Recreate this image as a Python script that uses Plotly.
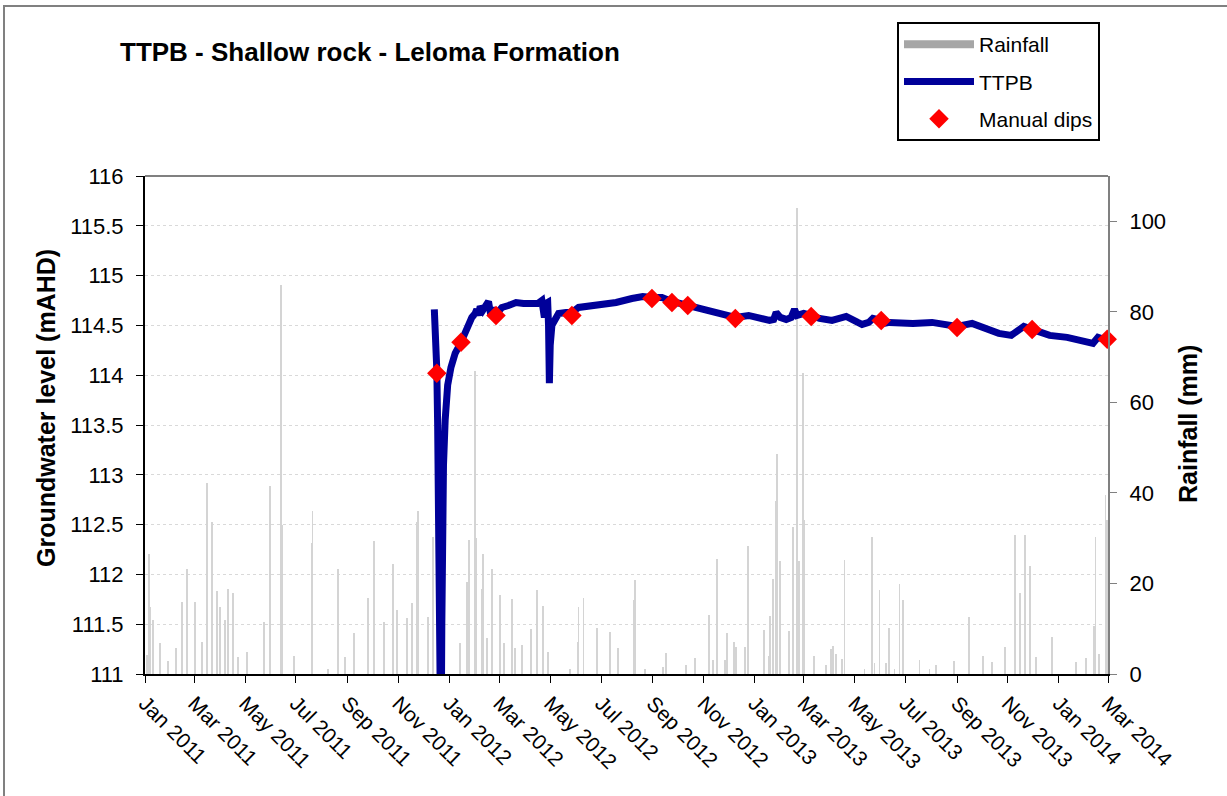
import plotly.graph_objects as go

# groundwater logger trace (TTPB), mAHD
ttpb_dates = [
    "2011-12-14", "2011-12-15", "2011-12-17", "2011-12-18", "2011-12-20", "2011-12-22",
    "2011-12-23", "2011-12-24", "2011-12-25", "2011-12-27", "2011-12-30", "2012-01-03",
    "2012-01-08", "2012-01-15", "2012-01-22", "2012-01-28", "2012-02-01", "2012-02-03",
    "2012-02-05", "2012-02-07", "2012-02-10", "2012-02-14", "2012-02-17", "2012-02-19",
    "2012-02-23", "2012-02-27", "2012-03-04", "2012-03-12", "2012-03-21", "2012-03-30",
    "2012-04-09", "2012-04-16", "2012-04-21", "2012-04-23", "2012-04-24", "2012-04-26",
    "2012-04-28", "2012-04-29", "2012-04-30", "2012-05-01", "2012-05-03", "2012-05-07",
    "2012-05-11", "2012-05-20", "2012-05-27", "2012-06-04", "2012-06-15", "2012-06-28",
    "2012-07-10", "2012-07-19", "2012-08-07", "2012-08-20", "2012-08-31", "2012-09-12",
    "2012-09-24", "2012-10-04", "2012-10-14", "2012-10-26", "2012-11-03", "2012-11-11",
    "2012-11-25", "2012-12-09", "2012-12-25", "2013-01-06", "2013-01-19", "2013-01-24",
    "2013-01-27", "2013-02-01", "2013-02-08", "2013-02-14", "2013-02-18", "2013-02-21",
    "2013-03-01", "2013-03-10", "2013-03-20", "2013-04-04", "2013-04-21", "2013-05-05",
    "2013-05-10", "2013-05-18", "2013-05-23", "2013-06-02", "2013-06-05", "2013-06-12",
    "2013-06-24", "2013-07-10", "2013-08-02", "2013-08-23", "2013-09-01", "2013-09-19",
    "2013-10-05", "2013-10-21", "2013-11-05", "2013-11-14", "2013-11-20", "2013-11-30",
    "2013-12-10", "2013-12-21", "2014-01-11", "2014-01-25", "2014-02-11", "2014-02-17",
    "2014-02-22", "2014-02-28",
]
ttpb_level = [
    114.66, 114.50, 114.05, 113.50, 110.00, 110.00,
    111.50, 112.60, 113.10, 113.55, 113.90, 114.08,
    114.22, 114.33, 114.48, 114.58, 114.62, 114.66,
    114.60, 114.69, 114.65, 114.70, 114.74, 114.64,
    114.65, 114.62, 114.68, 114.70, 114.73, 114.72,
    114.72, 114.72, 114.75, 114.60, 114.58, 114.72,
    114.73, 114.50, 113.92, 114.30, 114.50, 114.58,
    114.62, 114.63, 114.63, 114.68, 114.69, 114.70,
    114.71, 114.73, 114.77, 114.79, 114.78, 114.78,
    114.74, 114.72, 114.70, 114.67, 114.66, 114.64,
    114.61, 114.58, 114.60, 114.57, 114.55, 114.56,
    114.63, 114.58, 114.56, 114.58, 114.66, 114.60,
    114.62, 114.60, 114.57, 114.55, 114.59, 114.53,
    114.51, 114.53, 114.57, 114.55, 114.52, 114.53,
    114.52, 114.52, 114.53, 114.51, 114.49, 114.52,
    114.47, 114.42, 114.40, 114.46, 114.49, 114.46,
    114.43, 114.40, 114.38, 114.35, 114.32, 114.38,
    114.36, 114.35,
]

# manual dips
dip_dates = [
    "2011-12-17", "2012-01-15", "2012-02-26", "2012-05-27", "2012-08-31", "2012-09-24",
    "2012-10-13", "2012-12-09", "2013-03-10", "2013-06-02", "2013-09-01", "2013-11-30",
    "2014-02-28",
]
dip_level = [
    114.02, 114.33, 114.60, 114.60, 114.77, 114.73,
    114.70, 114.57, 114.59, 114.55, 114.48, 114.46,
    114.36,
]

# daily rainfall (mm), wet days only
rain_dates = [
    "2011-01-03", "2011-01-06", "2011-01-07", "2011-01-11", "2011-01-19", "2011-01-29",
    "2011-02-07", "2011-02-14", "2011-02-20", "2011-03-02", "2011-03-10", "2011-03-16",
    "2011-03-22", "2011-03-28", "2011-04-01", "2011-04-07", "2011-04-11", "2011-04-17",
    "2011-04-23", "2011-05-03", "2011-05-24", "2011-05-31", "2011-06-13", "2011-06-14",
    "2011-06-29", "2011-07-20", "2011-07-21", "2011-08-08", "2011-08-20", "2011-08-29",
    "2011-09-09", "2011-09-25", "2011-10-03", "2011-10-15", "2011-10-25", "2011-10-30",
    "2011-11-11", "2011-11-17", "2011-11-23", "2011-11-24", "2011-12-06", "2011-12-12",
    "2012-01-14", "2012-01-22", "2012-01-25", "2012-02-01", "2012-02-02", "2012-02-09",
    "2012-02-10", "2012-02-15", "2012-02-21", "2012-03-02", "2012-03-07", "2012-03-16",
    "2012-03-20", "2012-03-28", "2012-04-08", "2012-04-15", "2012-04-22", "2012-04-28",
    "2012-05-25", "2012-06-03", "2012-06-04", "2012-06-10", "2012-06-26", "2012-07-12",
    "2012-07-21", "2012-08-09", "2012-08-11", "2012-08-23", "2012-09-13", "2012-09-17",
    "2012-10-11", "2012-10-22", "2012-11-07", "2012-11-12", "2012-11-17", "2012-11-27",
    "2012-11-29", "2012-12-07", "2012-12-10", "2012-12-21", "2012-12-24", "2013-01-12",
    "2013-01-18", "2013-01-20", "2013-01-23", "2013-01-27", "2013-01-28", "2013-02-01",
    "2013-02-11", "2013-02-16", "2013-02-21", "2013-02-23", "2013-02-28", "2013-03-01",
    "2013-03-13", "2013-03-28", "2013-04-03", "2013-04-05", "2013-04-09", "2013-04-16",
    "2013-04-19", "2013-05-13", "2013-05-22", "2013-05-25", "2013-05-31", "2013-06-08",
    "2013-06-11", "2013-06-18", "2013-06-24", "2013-06-28", "2013-07-18", "2013-07-30",
    "2013-08-07", "2013-08-28", "2013-09-15", "2013-10-02", "2013-10-13", "2013-10-28",
    "2013-11-09", "2013-11-15", "2013-11-21", "2013-11-27", "2013-12-05", "2013-12-24",
    "2014-01-22", "2014-02-03", "2014-02-12", "2014-02-14", "2014-02-18", "2014-02-26",
    "2014-02-28",
]
rain_mm = [
    4.2, 26.6, 14.8, 11.9, 6.8, 2.9,
    5.7, 15.8, 23.1, 15.9, 7.0, 42.3,
    33.6, 18.3, 14.8, 11.9, 18.7, 17.9,
    3.7, 4.9, 11.5, 41.6, 86.0, 33.0,
    4.0, 29.0, 35.9, 1.0, 23.1, 3.7,
    9.0, 16.7, 29.3, 11.5, 24.4, 14.1,
    12.3, 15.6, 33.6, 35.9, 12.6, 30.2,
    6.8, 20.3, 29.7, 67.0, 30.0, 18.7,
    26.4, 7.9, 23.1, 17.4, 6.8, 16.5,
    5.7, 6.4, 9.9, 18.5, 15.0, 4.9,
    1.0, 7.0, 14.8, 16.7, 10.1, 9.3,
    5.7, 16.3, 20.7, 1.0, 1.5, 4.6,
    1.9, 3.5, 13.0, 3.0, 25.3, 3.0,
    9.0, 7.1, 6.0, 5.9, 28.2, 9.7,
    4.0, 12.8, 20.9, 38.3, 48.6, 24.9,
    9.5, 32.4, 103.0, 25.0, 66.5, 34.0,
    4.0, 2.0, 5.5, 6.2, 4.5, 3.4,
    25.1, 1.0, 30.2, 2.5, 18.5, 2.5,
    10.1, 1.0, 19.8, 16.3, 3.0, 1.0,
    2.0, 2.8, 12.5, 4.0, 2.6, 5.9,
    30.8, 17.9, 30.8, 23.8, 3.7, 8.1,
    2.7, 3.5, 10.6, 30.2, 4.5, 39.6,
    34.0,
]

FONT = "Liberation Sans, Arial, sans-serif"
DAY_MS = 86400000

fig = go.Figure()

# rainfall bars on the primary y (drawn underneath), legend via proxy
fig.add_trace(go.Bar(
    x=rain_dates, y=rain_mm, yaxis="y", width=DAY_MS,
    marker=dict(color="#d4d4d4", line=dict(width=0)),
    name="Rainfall", showlegend=False, legendgroup="a",
))
fig.add_trace(go.Scatter(
    x=[None], y=[None], yaxis="y", mode="lines",
    line=dict(color="#a6a6a6", width=8), name="Rainfall", legendgroup="a",
))
fig.add_trace(go.Scatter(
    x=ttpb_dates, y=ttpb_level, yaxis="y2", mode="lines",
    line=dict(color="#000099", width=7), name="TTPB", legendgroup="b",
))
fig.add_trace(go.Scatter(
    x=dip_dates, y=dip_level, yaxis="y2", mode="markers", cliponaxis=False,
    marker=dict(symbol="diamond", color="#ff0000", size=15),
    name="Manual dips", legendgroup="c",
))

fig.update_layout(
    width=1227, height=796,
    margin=dict(l=145, r=119, t=176, b=122),
    paper_bgcolor="white", plot_bgcolor="white",
    font=dict(family=FONT, size=21, color="black"),
    bargap=0,
    title=dict(text="<b>TTPB - Shallow rock - Leloma Formation</b>",
               x=120 / 1227, xanchor="left", xref="container",
               y=1 - 52 / 796, yanchor="middle", yref="container",
               font=dict(size=26, family=FONT, color="black")),
    xaxis=dict(
        type="date", range=["2011-01-01", "2014-03-01"],
        tick0="2011-01-01", dtick="M2", tickformat="%b %Y", tickangle=45,
        ticks="outside", ticklen=7, tickcolor="black", tickwidth=1,
        showline=True, linecolor="black", linewidth=2,
        showgrid=False, zeroline=False, tickfont=dict(size=21),
    ),
    yaxis=dict(
        side="right", range=[0, 110], tickvals=[0, 20, 40, 60, 80, 100],
        ticks="outside", ticklen=7, tickcolor="#808080",
        showline=True, linecolor="#808080", linewidth=2,
        showgrid=False, zeroline=False, ticklabelstandoff=8,
        tickfont=dict(size=22),
    ),
    yaxis2=dict(
        overlaying="y", side="left", anchor="x", range=[111, 116], dtick=0.5,
        ticks="outside", ticklen=7, tickcolor="black",
        showline=True, linecolor="black", linewidth=2,
        showgrid=True, gridcolor="#d9d9d9", griddash="dot", gridwidth=1,
        zeroline=False, ticklabelstandoff=8, tickfont=dict(size=22),
    ),
    legend=dict(
        x=(897 - 145) / 963, y=(674 - 22) / 498, xanchor="left", yanchor="top",
        bordercolor="black", borderwidth=2, bgcolor="white",
        font=dict(size=21, family=FONT), tracegroupgap=7,
        traceorder="grouped", itemwidth=70,
    ),
    annotations=[
        dict(text="<b>Groundwater level (mAHD)</b>", textangle=-90,
             x=(46 - 145) / 963, y=(674 - 408) / 498, xref="paper", yref="paper",
             xanchor="center", yanchor="middle",
             showarrow=False, font=dict(size=25, family=FONT)),
        dict(text="<b>Rainfall (mm)</b>", textangle=-90,
             x=(1188 - 145) / 963, y=(674 - 424) / 498, xref="paper", yref="paper",
             xanchor="center", yanchor="middle",
             showarrow=False, font=dict(size=25, family=FONT)),
    ],
    shapes=[
        # chart-area border (only top and left fall inside the picture)
        dict(type="rect", xref="paper", yref="paper",
             x0=(4 - 145) / 963, x1=1.25, y0=-0.4, y1=(674 - 6) / 498,
             line=dict(color="#808080", width=2), layer="below"),
        # top edge of the plot area
        dict(type="line", xref="paper", yref="paper", x0=0, x1=1, y0=1, y1=1,
             line=dict(color="#808080", width=2)),
    ],
)

fig.write_html("out.html", config={"displayModeBar": False},
               post_script="document.body.style.margin='0';")
